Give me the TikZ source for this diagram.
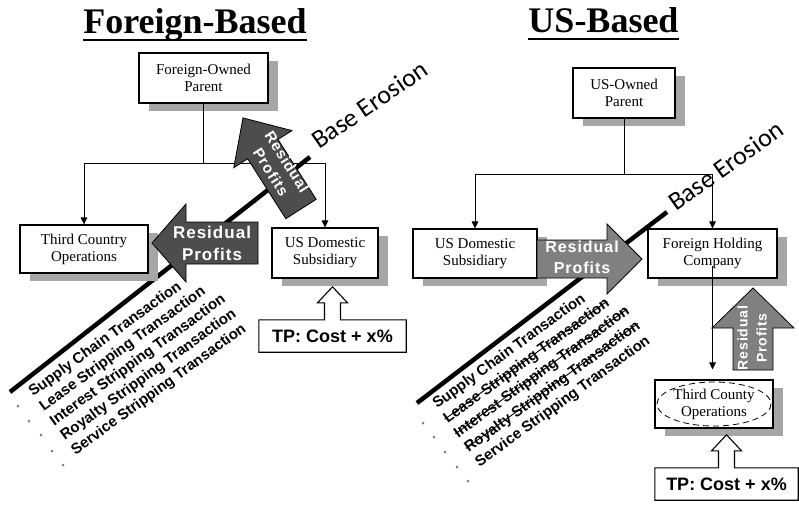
\documentclass[tikz,border=0pt]{standalone}
\usepackage{fontspec}
\setmainfont{Liberation Serif}
\newfontfamily\sansf{Liberation Sans}
\newfontfamily\arrowf[LetterSpace=6]{Liberation Sans}
\newfontfamily\calib{Carlito}
\usetikzlibrary{shadows,calc,arrows.meta}
\newsavebox\strikebox
\newcommand\mystrike[1]{\sbox\strikebox{#1}\rlap{\usebox\strikebox}\rule[0.32em]{\wd\strikebox}{0.9pt}}
\definecolor{darkarrow}{HTML}{4D4D4D}
\definecolor{lightarrow}{HTML}{808080}
\definecolor{shadowgray}{HTML}{A6A6A6}
\definecolor{bulletgray}{HTML}{808080}
\tikzset{
 box/.style={draw, line width=1.1pt, fill=white, align=center, inner sep=0pt,
   font=\fontsize{15}{17}\selectfont,
   drop shadow={shadow xshift=10pt, shadow yshift=-8pt, fill=shadowgray, opacity=1}},
 conn/.style={line width=1pt, -{Triangle[length=7pt,width=6.5pt]}},
 erosion/.style={line width=4.5pt},
 erosionlabel/.style={font=\calib\fontsize{26}{30}\selectfont, anchor=base west, inner sep=0pt},
 arrowtext/.style={text=white, align=center, inner sep=0pt, font=\arrowf\bfseries\fontsize{16}{21}\selectfont},
 listtext/.style={font=\sansf\bfseries\fontsize{15}{17}\selectfont, anchor=base west, inner sep=0pt, rotate=36},
 bulletdot/.style={circle, fill=bulletgray, inner sep=0pt, minimum size=3pt},
 titletext/.style={font=\bfseries\fontsize{36}{40}\selectfont, anchor=base, inner sep=0pt},
 tptext/.style={font=\sansf\bfseries\fontsize{18}{20}\selectfont, inner sep=0pt},
 callout/.style={draw, fill=white, line width=1.1pt},
 blockarrow/.style={draw=black, line width=0.8pt},
}
% #1 tail centre, #2 angle, #3 length, #4 head length, #5 shaft half width, #6 head half width, #7 fill
\newcommand\myblockarrow[7]{%
 \begin{scope}[shift={(#1)}, rotate=#2]
  \filldraw[blockarrow, fill=#7] (0,-#5) -- ({#3-#4},-#5) -- ({#3-#4},-#6) -- (#3,0)
     -- ({#3-#4},#6) -- ({#3-#4},#5) -- (0,#5) -- cycle;
 \end{scope}}
% callout box with hollow up arrow: #1 node name
\newcommand\mycallout[1]{%
  \filldraw[callout] (#1.north west) -- ($(#1.north)+(-8,0)$) -- ($(#1.north)+(-8,-17)$)
   -- ($(#1.north)+(-15,-17)$) -- ($(#1.north)+(0,-33)$) -- ($(#1.north)+(15,-17)$)
   -- ($(#1.north)+(8,-17)$) -- ($(#1.north)+(8,0)$) -- (#1.north east) -- (#1.south east)
   -- (#1.south west) -- cycle;}
\begin{document}
\begin{tikzpicture}[x=1pt,y=-1pt]
\useasboundingbox (0,0) rectangle (799,504);
% titles
\node[titletext] (t1) at (195,33) {Foreign-Based};
\draw[line width=1.8pt] ([yshift=-7pt]t1.base west) -- ([yshift=-7pt]t1.base east);
\node[titletext] (t2) at (603.5,32) {US-Based};
\draw[line width=1.8pt] ([yshift=-7pt]t2.base west) -- ([yshift=-7pt]t2.base east);
% base erosion lines
\coordinate (beL1) at (10,392); \coordinate (beL2) at (310,157);
\coordinate (beR1) at (417,403); \coordinate (beR2) at (667,212);
\draw[erosion] (beL1) -- (beL2);
\draw[erosion] (beR1) -- (beR2);
% boxes left
\node[box, minimum width=129pt, minimum height=50pt] (fparent) at (203.5,78) {Foreign-Owned\\Parent};
\node[box, minimum width=128pt, minimum height=48pt] (tco) at (84,249) {Third Country\\Operations};
\node[box, minimum width=106pt, minimum height=50pt] (usd) at (325,253) {US Domestic\\Subsidiary};
% boxes right
\node[box, minimum width=102pt, minimum height=50pt] (uparent) at (624,93) {US-Owned\\Parent};
\node[box, minimum width=124pt, minimum height=49pt] (usd2) at (475,253.5) {US Domestic\\Subsidiary};
\node[box, minimum width=129pt, minimum height=49pt] (fhc) at (712.5,253.5) {Foreign Holding\\Company};
\node[box, minimum width=118pt, minimum height=48pt] (tco2) at (714,404) {Third County\\Operations};
\draw[dashed, dash pattern=on 6pt off 4pt, line width=0.8pt] (tco2.center) ellipse [x radius=57, y radius=22];
% connectors
\draw[conn] (fparent.south) -- ++(0,60) -| (tco.north);
\draw[conn] (fparent.south) -- ++(0,60) -| (usd.north);
\draw[conn] (uparent.south) -- ++(0,56) -| (usd2.north);
\draw[conn] (uparent.south) -- ++(0,56) -| (fhc.north);
% block arrows
\myblockarrow{258,243}{180}{106}{34}{21}{39}{darkarrow}
\myblockarrow{301,209}{122.5}{108}{37}{18}{34.5}{darkarrow}
\myblockarrow{537,259}{0}{105}{35}{19}{35}{lightarrow}
\myblockarrow{753,370}{90}{82}{40}{20}{41}{lightarrow}
\node[arrowtext, font=\arrowf\bfseries\fontsize{17}{22}\selectfont] (rpl) at (212,243) {Residual\\Profits};
\node[arrowtext, font=\arrowf\bfseries\fontsize{15}{19}\selectfont, rotate=-57.5] (rpu) at (279,167) {Residual\\Profits};
\node[arrowtext] (rpr) at (582,257) {Residual\\Profits};
\node[arrowtext, font=\arrowf\bfseries\fontsize{14}{19}\selectfont, rotate=90] (rpv) at (752,338) {Residual\\Profits};
\draw[conn, shorten >=10pt] ([yshift=-12pt]fhc.center) -- (fhc.center |- tco2.north);
% TP callouts
\node[tptext, minimum width=147pt, minimum height=32pt] (tpL) at (332.5,336) {};
\mycallout{tpL}
\node[tptext] (tpLt) at (tpL.center) {TP: Cost + x\%};
\node[tptext, minimum width=143pt, minimum height=32pt] (tpR) at (726.5,484) {};
\mycallout{tpR}
\node[tptext] (tpRt) at (tpR.center) {TP: Cost + x\%};
% base erosion labels
\node[erosionlabel, rotate=34.5] (belab) at (319,150) {Base Erosion};
\node[erosionlabel, rotate=35.5] (berab) at (676,212) {Base Erosion};
% lists left
\node[listtext] (l1) at (33,397) {Supply Chain Transaction};
\node[listtext] (l2) at (43.6,411.6) {Lease Stripping Transaction};
\node[listtext] (l3) at (54.2,426.2) {Interest Stripping Transaction};
\node[listtext] (l4) at (64.8,440.8) {Royalty Stripping Transaction};
\node[listtext] (l5) at (75.4,455.4) {Service Stripping Transaction};
\node[bulletdot] (b1) at (18,406) {};
\node[bulletdot] (b2) at (29,421) {};
\node[bulletdot] (b3) at (41,435) {};
\node[bulletdot] (b4) at (52,451) {};
\node[bulletdot] (b5) at (63,465) {};
% lists right
\node[listtext] (r1) at (437,409) {Supply Chain Transaction};
\node[listtext] (r2) at (447.6,423.6) {\mystrike{Lease Stripping Transaction}};
\node[listtext] (r3) at (458.2,438.2) {\mystrike{Interest Stripping Transaction}};
\node[listtext] (r4) at (468.8,452.8) {\mystrike{Royalty Stripping Transaction}};
\node[listtext] (r5) at (479.4,467.4) {Service Stripping Transaction};
\node[bulletdot] (c1) at (423,423) {};
\node[bulletdot] (c2) at (434,437) {};
\node[bulletdot] (c3) at (445,452) {};
\node[bulletdot] (c4) at (457,467) {};
\node[bulletdot] (c5) at (468,481) {};
\end{tikzpicture}
\end{document}
